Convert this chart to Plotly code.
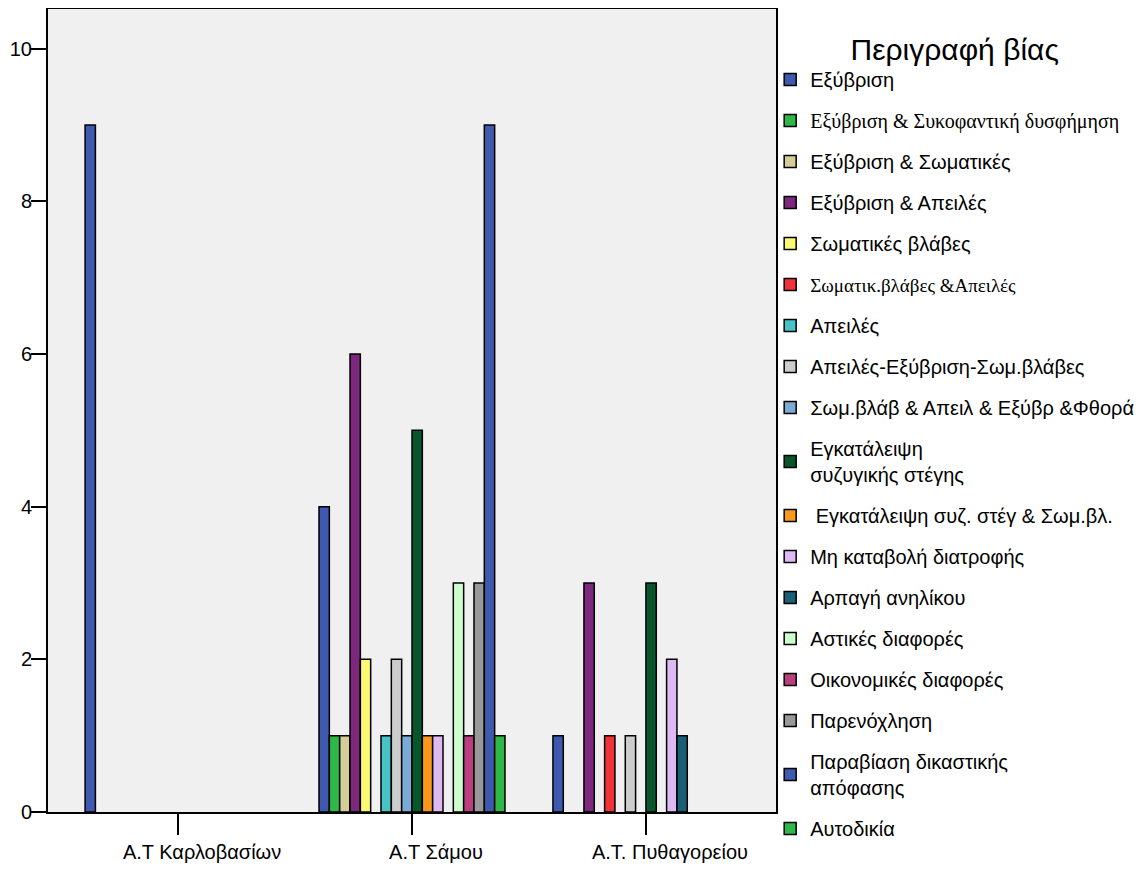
import plotly.graph_objects as go

# σταθμοί
stations = ["Α.Τ Καρλοβασίων", "Α.Τ Σάμου", "Α.Τ. Πυθαγορείου"]

# περιγραφή βίας (σειρές)
series = [
    "Εξύβριση",
    '<span style="font-family:Liberation Serif, Times New Roman, serif">Εξύβριση &amp; Συκοφαντική δυσφήμηση</span>',
    "Εξύβριση & Σωματικές",
    "Εξύβριση & Απειλές",
    "Σωματικές βλάβες",
    '<span style="font-family:Liberation Serif, Times New Roman, serif;font-size:19px">Σωματικ.βλάβες &amp;Απειλές</span>',
    "Απειλές",
    "Απειλές-Εξύβριση-Σωμ.βλάβες",
    "Σωμ.βλάβ & Απειλ & Εξύβρ &Φθορά",
    "Εγκατάλειψη<br>συζυγικής στέγης",
    " Εγκατάλειψη συζ. στέγ & Σωμ.βλ.",
    "Μη καταβολή διατροφής",
    "Αρπαγή ανηλίκου",
    "Αστικές διαφορές",
    "Οικονομικές διαφορές",
    "Παρενόχληση",
    "Παραβίαση δικαστικής<br>απόφασης",
    "Αυτοδικία",
]

# τιμές ανά σταθμό (ίδια σειρά με series)
karlovasi = [9, 0, 0, 0, 0, 0, 0, 0, 0, 0, 0, 0, 0, 0, 0, 0, 0, 0]
samos = [4, 1, 1, 6, 2, 0, 1, 2, 1, 5, 1, 1, 0, 3, 1, 3, 9, 1]
pythagoreio = [1, 0, 0, 3, 0, 1, 0, 1, 0, 3, 0, 2, 1, 0, 0, 0, 0, 0]

colors = [
    "#3e59ad", "#2eb847", "#d3ce97", "#7b287d", "#fbf873", "#ef3338",
    "#48c3c5", "#cccccc", "#7baad5", "#0a562c", "#f8981d", "#ddbaf1",
    "#1a5f76", "#ccffcc", "#bb3f7f", "#999999", "#3e59ad", "#2eb847",
]

FONT = "Liberation Sans, Arial, sans-serif"

fig = go.Figure()
for i, name in enumerate(series):
    vals = [karlovasi[i], samos[i], pythagoreio[i]]
    fig.add_trace(go.Bar(
        x=stations,
        y=[v if v else None for v in vals],
        name=name,
        legendgroup=f"g{i}",
        marker=dict(color=colors[i], line=dict(color="black", width=1.5)),
    ))

# η σελίδα έχει περιθώριο 8px, γι' αυτό τα περιθώρια είναι μετατοπισμένα
fig.update_layout(
    width=1146,
    height=871,
    barmode="group",
    bargap=0.205,
    bargroupgap=0,
    paper_bgcolor="white",
    plot_bgcolor="#f0f0f0",
    margin=dict(l=40, r=378, t=1, b=67, autoexpand=False),
    font=dict(family=FONT, size=20, color="black"),
    legend=dict(
        x=0.992, xanchor="left",
        y=0.985, yanchor="top",
        traceorder="grouped",
        tracegroupgap=12,
        maxheight=860,
        bgcolor="rgba(0,0,0,0)",
        font=dict(family=FONT, size=20),
        title=dict(text="Περιγραφή βίας", side="top center",
                   font=dict(family=FONT, size=30)),
    ),
)

fig.update_xaxes(
    type="category",
    range=[-0.556, 2.556],
    showline=True, linecolor="black", linewidth=2, mirror=True,
    ticks="outside", ticklen=21, tickwidth=1.5, tickcolor="black",
    ticklabelshift=24,
    showgrid=False,
)
fig.update_yaxes(
    range=[0, 10.52],
    tickvals=[0, 2, 4, 6, 8, 10],
    showline=True, linecolor="black", linewidth=2, mirror=True,
    ticks="outside", ticklen=15, tickwidth=1.5, tickcolor="black",
    ticklabelstandoff=-5,
    showgrid=False, zeroline=False,
)

fig.write_html("out.html")
